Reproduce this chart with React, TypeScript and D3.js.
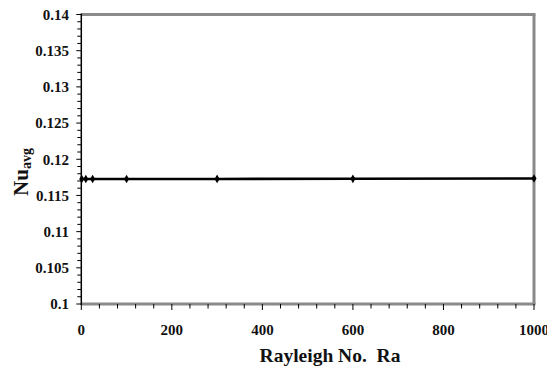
import React from "react";
import * as d3 from "d3";

// Average Nusselt number against Rayleigh number
const rayleigh = [1, 10, 25, 100, 300, 600, 1000];
const nuAvg = [0.11727, 0.11727, 0.11727, 0.11727, 0.11728, 0.1173, 0.11734];
const xTickValues = [0, 200, 400, 600, 800, 1000];
const yTickValues = [0.1, 0.105, 0.11, 0.115, 0.12, 0.125, 0.13, 0.135, 0.14];

const W = 547;
const H = 371;
const left = 81.3;
const right = 534;
const top = 14.5;
const bottom = 304;

export default function App() {
  const x = d3.scaleLinear().domain([0, 1000]).range([left, right]);
  const y = d3.scaleLinear().domain([0.1, 0.14]).range([bottom, top]);
  const line = d3
    .line<number>()
    .x((_, i) => x(rayleigh[i]))
    .y((d) => y(d));

  const xMinor = d3.range(0, 1001, 40);
  const yMinor = d3.range(0, 41).map((k) => 0.1 + k * 0.001);
  const font = "'Liberation Serif', 'Times New Roman', serif";
  const diamond = d3.symbol().type(d3.symbolDiamond).size(22)() as string;

  return (
    <svg
      width={W}
      height={H}
      style={{ position: "absolute", left: 0, top: 0, background: "#fff" }}
    >
      {/* plot frame */}
      <line x1={left} x2={right + 1.5} y1={top} y2={top} stroke="#8a8a8a" strokeWidth={3} />
      <line x1={right} x2={right} y1={top} y2={bottom} stroke="#8a8a8a" strokeWidth={3} />
      <line x1={left} x2={right + 1.5} y1={bottom} y2={bottom} stroke="#8a8a8a" strokeWidth={3} />
      <line x1={left} x2={left} y1={top - 1} y2={bottom + 1} stroke="#000" strokeWidth={1.5} />

      {/* y ticks */}
      {yMinor.map((v, i) => (
        <line
          key={"ym" + i}
          x1={left - (i % 5 === 0 ? 5 : 4)}
          x2={left}
          y1={y(v)}
          y2={y(v)}
          stroke="#000"
          strokeWidth={1}
        />
      ))}
      {/* x ticks */}
      {xMinor.map((v, i) => (
        <line
          key={"xm" + i}
          x1={x(v)}
          x2={x(v)}
          y1={bottom}
          y2={bottom + (i % 5 === 0 ? 6 : 4.5)}
          stroke="#000"
          strokeWidth={1}
        />
      ))}

      {yTickValues.map((v) => (
        <text
          key={"yl" + v}
          x={69}
          y={y(v)}
          dy="0.35em"
          textAnchor="end"
          fontFamily={font}
          fontWeight="bold"
          fontSize={15}
          fill="#111"
        >
          {String(v)}
        </text>
      ))}
      {xTickValues.map((v) => (
        <text
          key={"xl" + v}
          x={x(v)}
          y={335}
          textAnchor="middle"
          fontFamily={font}
          fontWeight="bold"
          fontSize={15}
          fill="#111"
        >
          {v}
        </text>
      ))}

      {/* series */}
      <path d={line(nuAvg) as string} fill="none" stroke="#000" strokeWidth={2.6} />
      {nuAvg.map((v, i) => (
        <path key={"pt" + i} d={diamond} transform={`translate(${x(rayleigh[i])},${y(v)})`} fill="#000" />
      ))}

      {/* axis titles */}
      <text
        x={330}
        y={362}
        textAnchor="middle"
        fontFamily={font}
        fontWeight="bold"
        fontSize={19.5}
        fill="#111"
        xmlSpace="preserve"
      >
        {"Rayleigh No.  Ra"}
      </text>
      <text
        transform="translate(28,172) rotate(-90)"
        textAnchor="middle"
        fontFamily={font}
        fontWeight="bold"
        fontSize={21}
        fill="#111"
      >
        Nu
        <tspan fontSize={14} dy={3}>avg</tspan>
      </text>
    </svg>
  );
}
